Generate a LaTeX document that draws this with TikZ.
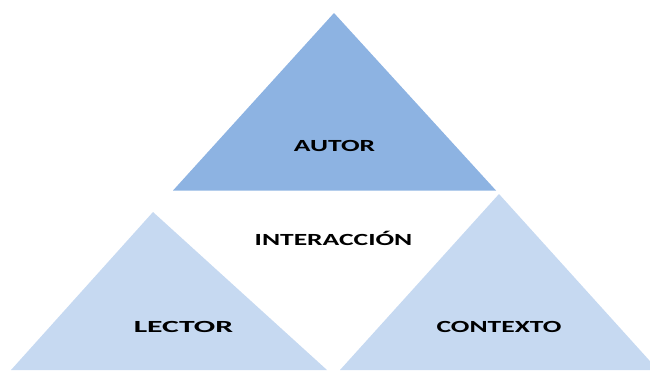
\documentclass[tikz,border=0pt]{standalone}
\usepackage{fontspec}
\setmainfont{Carlito}
\definecolor{topblue}{HTML}{8DB3E2}
\definecolor{lightblue}{HTML}{C6D9F1}
\begin{document}
\begin{tikzpicture}[x=1pt,y=-1pt,
  lbl/.style={font=\bfseries\fontsize{17}{17}\selectfont, text=black, inner sep=0pt, xscale=1.62}]
\useasboundingbox (0,0) rectangle (650,370);
\clip (0,0) rectangle (650,370);
\fill[topblue] (334,13) -- (173,190.5) -- (496,190.5) -- cycle;
\fill[lightblue] (153,212) -- (11,370) -- (327,370) -- cycle;
\fill[lightblue] (499,194) -- (340,370) -- (658,370) -- cycle;
\node[lbl] (autor) at (334.5,146) {AUTOR};
\node[lbl] (inter) at (333.5,238) {INTERACCIÓN};
\node[lbl, xscale=1.15] (lector) at (183.5,327) {LECTOR};
\node[lbl] (contexto) at (499,327) {CONTEXTO};
\end{tikzpicture}
\end{document}
